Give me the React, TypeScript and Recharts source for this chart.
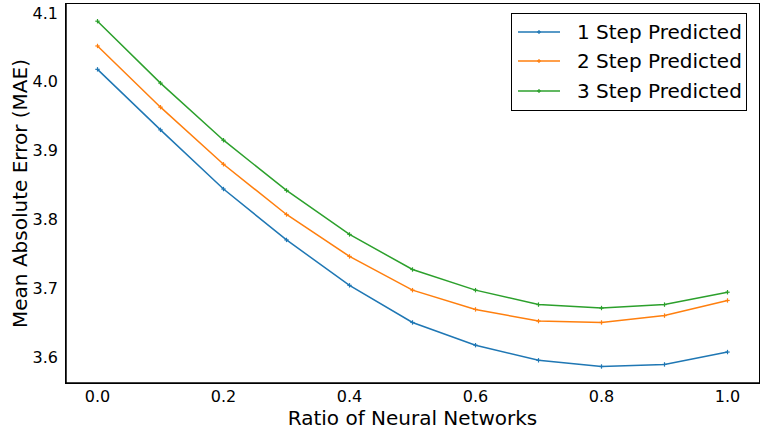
import { Line, LineChart, XAxis, YAxis } from "recharts";

const ratios = [0.0, 0.1, 0.2, 0.3, 0.4, 0.5, 0.6, 0.7, 0.8, 0.9, 1.0];
const oneStep = [4.018, 3.93, 3.844, 3.77, 3.704, 3.65, 3.617, 3.595, 3.586, 3.589, 3.607];
const twoStep = [4.052, 3.963, 3.88, 3.807, 3.746, 3.697, 3.669, 3.652, 3.65, 3.66, 3.682];
const threeStep = [4.088, 3.998, 3.915, 3.842, 3.778, 3.727, 3.697, 3.676, 3.671, 3.676, 3.694];

const xTicks = [0, 0.2, 0.4, 0.6, 0.8, 1.0];
const yTicks = [3.6, 3.7, 3.8, 3.9, 4.0, 4.1];

const series = [
  { key: "one", name: "1 Step Predicted", color: "#1f77b4" },
  { key: "two", name: "2 Step Predicted", color: "#ff7f0e" },
  { key: "three", name: "3 Step Predicted", color: "#2ca02c" },
];

const data = ratios.map((r, i) => ({
  ratio: r,
  one: oneStep[i],
  two: twoStep[i],
  three: threeStep[i],
}));

const font = "'DejaVu Sans', sans-serif";

// tiny cross marker, about the size of matplotlib's small "*"
function StarDot(props: any) {
  const { cx, cy, stroke } = props;
  if (cx == null || cy == null) return null;
  const s = 2.2;
  return (
    <g stroke={stroke} strokeWidth={1.2}>
      <line x1={cx - s} y1={cy} x2={cx + s} y2={cy} />
      <line x1={cx} y1={cy - s} x2={cx} y2={cy + s} />
    </g>
  );
}

function LegendBox() {
  return (
    <div
      style={{
        position: "absolute",
        left: 511,
        top: 13,
        border: "1.5px solid #000",
        background: "#fff",
        width: 236,
        height: 98,
        boxSizing: "border-box",
        padding: "3px 0 0 6px",
        fontFamily: font,
        fontSize: 20,
        color: "#000",
      }}
    >
      {series.map((s) => (
        <div key={s.key} style={{ display: "flex", alignItems: "center", height: 29.5 }}>
          <svg width={42} height={10} style={{ marginRight: 17 }}>
            <line x1={0} y1={5} x2={42} y2={5} stroke={s.color} strokeWidth={1.5} />
            <line x1={19} y1={5} x2={23} y2={5} stroke={s.color} strokeWidth={1.2} />
            <line x1={21} y1={3} x2={21} y2={7} stroke={s.color} strokeWidth={1.2} />
          </svg>
          <span>{s.name}</span>
        </div>
      ))}
    </div>
  );
}

export default function App() {
  return (
    <div style={{ position: "relative", width: 762, height: 436, background: "#fff" }}>
      <style>{`body{margin:0}`}</style>
      <LineChart width={762} height={436} data={data} margin={{ top: 4, right: 3, left: 0, bottom: 0 }}>
        <XAxis
          dataKey="ratio"
          type="number"
          domain={[-0.05, 1.05]}
          ticks={xTicks}
          tickFormatter={(v) => v.toFixed(1)}
          allowDataOverflow
          height={53}
          tickLine={false}
          axisLine={{ stroke: "#000", strokeWidth: 1.5 }}
          tick={{ fill: "#000", fontSize: 16, fontFamily: font }}
          label={{
            value: "Ratio of Neural Networks",
            position: "center",
            dy: 8,
            style: { fill: "#000", fontSize: 20, fontFamily: font },
          }}
        />
        <YAxis
          type="number"
          domain={[3.562, 4.113]}
          ticks={yTicks}
          tickFormatter={(v) => v.toFixed(1)}
          allowDataOverflow
          width={66}
          tickLine={false}
          axisLine={{ stroke: "#000", strokeWidth: 1.5 }}
          tick={{ fill: "#000", fontSize: 16, fontFamily: font }}
          label={{
            value: "Mean Absolute Error (MAE)",
            angle: -90,
            position: "center",
            dx: -13,
            style: { fill: "#000", fontSize: 20, fontFamily: font, textAnchor: "middle" },
          }}
        />
        {series.map((s) => (
          <Line
            key={s.key}
            dataKey={s.key}
            name={s.name}
            stroke={s.color}
            strokeWidth={1.5}
            dot={<StarDot stroke={s.color} />}
            activeDot={false}
            isAnimationActive={false}
          />
        ))}
      </LineChart>
      {/* axes frame (top/right spines) */}
      <div
        style={{
          position: "absolute",
          left: 65.25,
          top: 3.25,
          width: 694.5,
          height: 380.5,
          border: "1.5px solid #000",
          boxSizing: "border-box",
          pointerEvents: "none",
        }}
      />
      <LegendBox />
    </div>
  );
}
